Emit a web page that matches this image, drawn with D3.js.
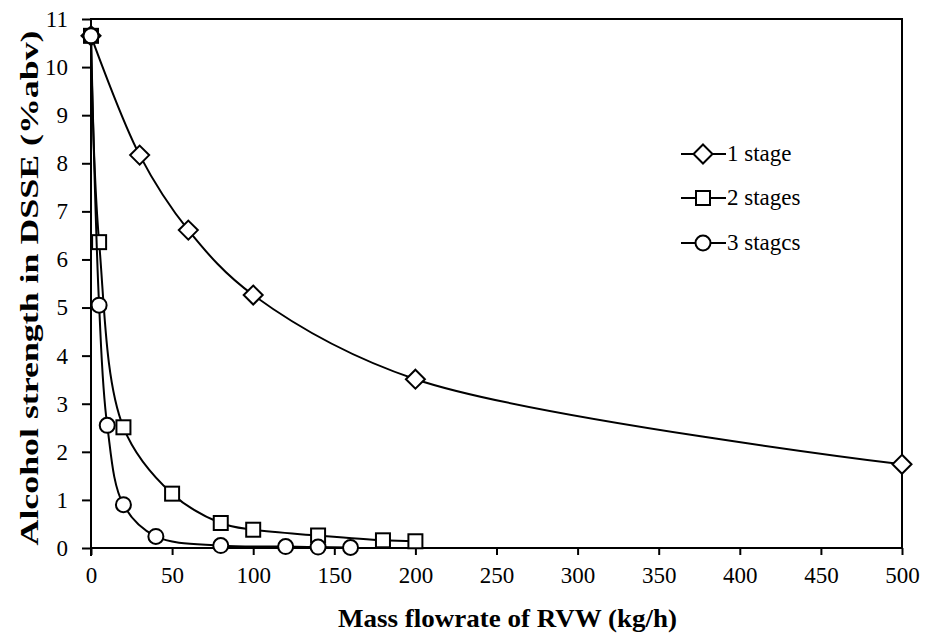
<!DOCTYPE html>
<html>
<head>
<meta charset="utf-8">
<title>Alcohol strength vs mass flowrate</title>
<script src="https://d3js.org/d3.v7.min.js"></script>
<style>
  html, body { margin: 0; padding: 0; background: #fff; }
  .tick line { stroke: #000; stroke-width: 2px; }
</style>
</head>
<body>
<div id="chart"></div>
<script>
// values
const stage1X = [0, 30, 60, 100, 200, 500];
const stage1Y = [10.65, 8.17, 6.61, 5.26, 3.51, 1.74];
const stage2X = [0, 5, 20, 50, 80, 100, 140, 180, 200];
const stage2Y = [10.65, 6.36, 2.51, 1.13, 0.52, 0.38, 0.26, 0.16, 0.14];
const stage3X = [0, 5, 10, 20, 40, 80, 120, 140, 160];
const stage3Y = [10.65, 5.05, 2.55, 0.9, 0.24, 0.05, 0.03, 0.02, 0.01];
const seriesNames = ["1 stage", "2 stages", "3 stagcs"];
const seriesShapes = ["diamond", "square", "circle"];
const xTicks = [0, 50, 100, 150, 200, 250, 300, 350, 400, 450, 500];
const yTicks = [0, 1, 2, 3, 4, 5, 6, 7, 8, 9, 10, 11];

const serif = "Liberation Serif";
const width = 935, height = 635;
const plotLeft = 91, plotRight = 902, plotTop = 19, plotBottom = 548;

const svg = d3.select("#chart").append("svg")
  .attr("width", width).attr("height", height);

const x = d3.scaleLinear().domain([0, 500]).range([plotLeft, plotRight]);
const y = d3.scaleLinear().domain([0, 11]).range([plotBottom, plotTop]);

// frame
svg.append("rect")
  .attr("x", plotLeft).attr("y", plotTop)
  .attr("width", plotRight - plotLeft).attr("height", plotBottom - plotTop)
  .attr("fill", "none").attr("stroke", "#000").attr("stroke-width", 2);

// axes
const xAxis = svg.append("g")
  .attr("transform", "translate(0," + plotBottom + ")")
  .call(d3.axisBottom(x).tickValues(xTicks).tickSize(7).tickPadding(12));
xAxis.select(".domain").remove();
xAxis.attr("font-family", serif).attr("font-size", 23);

const yAxis = svg.append("g")
  .attr("transform", "translate(" + plotLeft + ",0)")
  .call(d3.axisLeft(y).tickValues(yTicks).tickSize(9).tickPadding(14));
yAxis.select(".domain").remove();
yAxis.attr("font-family", serif).attr("font-size", 23);

// y axis line runs a bit under the x axis
svg.append("line")
  .attr("x1", plotLeft).attr("x2", plotLeft)
  .attr("y1", plotTop).attr("y2", plotBottom + 8)
  .attr("stroke", "#000").attr("stroke-width", 2);

// axis titles
svg.append("text")
  .attr("x", (338 + 677) / 2).attr("y", 627)
  .attr("text-anchor", "middle")
  .style("font-family", serif)
  .style("font-size", "25px").style("font-weight", "bold")
  .attr("textLength", 339).attr("lengthAdjust", "spacingAndGlyphs")
  .text("Mass flowrate of RVW (kg/h)");

svg.append("text")
  .attr("transform", "translate(38,288) rotate(-90)")
  .attr("text-anchor", "middle")
  .style("font-family", serif)
  .style("font-size", "25px").style("font-weight", "bold")
  .attr("textLength", 515).attr("lengthAdjust", "spacingAndGlyphs")
  .text("Alcohol strength in DSSE (%abv)");

// series
const series = [
  { xs: stage1X, ys: stage1Y },
  { xs: stage2X, ys: stage2Y },
  { xs: stage3X, ys: stage3Y }
];

const line = d3.line()
  .x(d => x(d[0])).y(d => y(d[1]))
  .curve(d3.curveCatmullRom.alpha(0.5));

function drawMarker(g, shape, cx, cy) {
  if (shape === "diamond") {
    const r = 9.5;
    g.append("path")
      .attr("d", "M" + cx + "," + (cy - r) + "L" + (cx + r) + "," + cy +
        "L" + cx + "," + (cy + r) + "L" + (cx - r) + "," + cy + "Z")
      .attr("fill", "#fff").attr("stroke", "#000").attr("stroke-width", 2);
  } else if (shape === "square") {
    const s = 14;
    g.append("rect")
      .attr("x", cx - s / 2).attr("y", cy - s / 2)
      .attr("width", s).attr("height", s)
      .attr("fill", "#fff").attr("stroke", "#000").attr("stroke-width", 2);
  } else {
    g.append("circle")
      .attr("cx", cx).attr("cy", cy).attr("r", 7.5)
      .attr("fill", "#fff").attr("stroke", "#000").attr("stroke-width", 2);
  }
}

series.forEach(function (s, i) {
  const pts = s.xs.map((v, k) => [v, s.ys[k]]);
  const g = svg.append("g");
  g.append("path")
    .attr("d", line(pts))
    .attr("fill", "none").attr("stroke", "#000").attr("stroke-width", 2);
  pts.forEach(function (p) {
    drawMarker(g, seriesShapes[i], x(p[0]), y(p[1]));
  });
});

// legend
const legendY = [154, 198, 243];
seriesNames.forEach(function (name, i) {
  const g = svg.append("g");
  g.append("line")
    .attr("x1", 681).attr("x2", 726)
    .attr("y1", legendY[i]).attr("y2", legendY[i])
    .attr("stroke", "#000").attr("stroke-width", 2);
  drawMarker(g, seriesShapes[i], 703, legendY[i]);
  g.append("text")
    .attr("x", 727).attr("y", legendY[i] + 7)
    .style("font-family", serif)
    .style("font-size", "23px")
    .text(name);
});
</script>
</body>
</html>
